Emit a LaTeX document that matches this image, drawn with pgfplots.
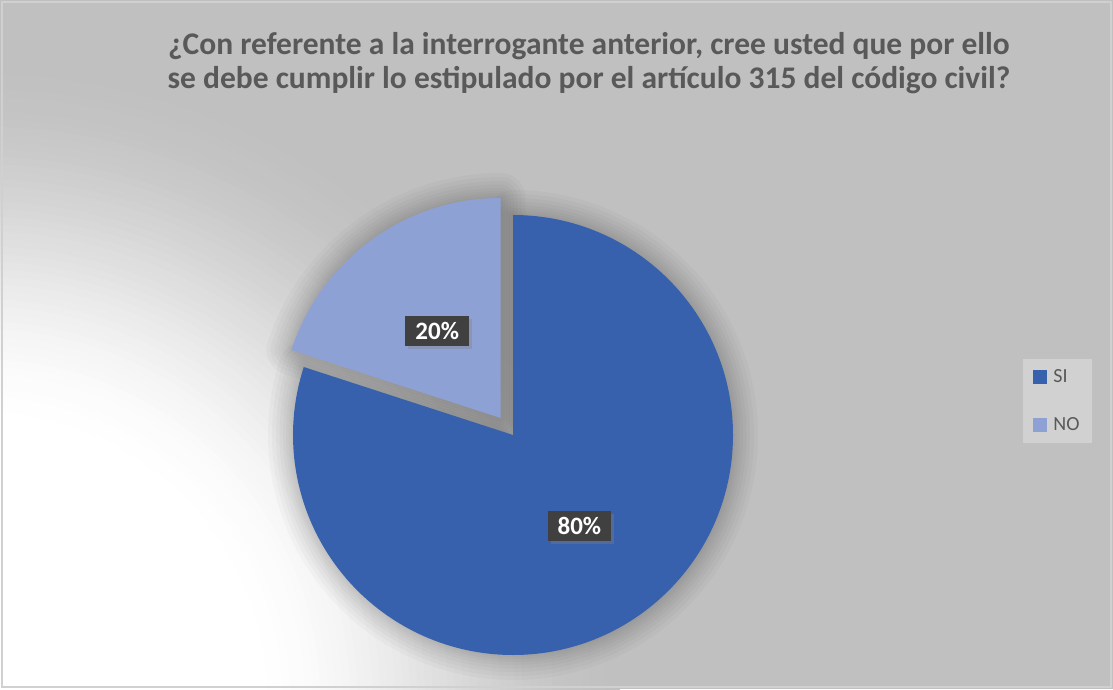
\documentclass[border=0pt]{standalone}
\usepackage{fontspec}
\setmainfont{Carlito}
\usepackage{pgfplots}
\usepackage{pgfplotstable}
\pgfplotsset{compat=1.18}
\usetikzlibrary{shadows}

\definecolor{bggray}{HTML}{C0C0C0}
\definecolor{siblue}{HTML}{3761AC}
\definecolor{noblue}{HTML}{8EA1D4}
\definecolor{titlegray}{HTML}{595959}
\definecolor{lblgray}{HTML}{404040}
\definecolor{framegray}{HTML}{D0D0D0}
\definecolor{leggray}{HTML}{D1D1D1}

\pgfplotstableread{
Label Value
SI 80
NO 20
}\piedata

\pgfplotstablegetelem{0}{Value}\of\piedata \let\vSI\pgfplotsretval
\pgfplotstablegetelem{1}{Value}\of\piedata \let\vNO\pgfplotsretval
\pgfmathsetmacro\aSIstart{90}
\pgfmathsetmacro\aSIend{90-3.6*\vSI}
\pgfmathsetmacro\aNOend{\aSIend-3.6*\vNO}
\pgfmathsetmacro\mSI{(\aSIstart+\aSIend)/2}
\pgfmathsetmacro\mNO{(\aSIend+\aNOend)/2}
\pgfmathtruncatemacro\lblSI{\vSI}
\pgfmathtruncatemacro\lblNO{\vNO}

\tikzset{
  glow/.style={
    preaction={draw=black, draw opacity=0.022, line width=50pt, line join=round},
    preaction={draw=black, draw opacity=0.022, line width=42pt, line join=round},
    preaction={draw=black, draw opacity=0.022, line width=34pt, line join=round},
    preaction={draw=black, draw opacity=0.022, line width=27pt, line join=round},
    preaction={draw=black, draw opacity=0.022, line width=20pt, line join=round},
    preaction={draw=black, draw opacity=0.022, line width=14pt, line join=round},
    preaction={draw=black, draw opacity=0.022, line width=9pt, line join=round},
    preaction={draw=black, draw opacity=0.022, line width=4pt, line join=round},
  },
  pielbl/.style={fill=lblgray, text=white, inner xsep=10pt, inner ysep=0pt,
    minimum height=30pt,
    font=\bfseries\fontsize{25}{25}\selectfont,
    drop shadow={opacity=0.35, shadow xshift=3pt, shadow yshift=-3pt}},
}

\begin{document}
\begin{tikzpicture}
% background (picture decoration)
\fill[bggray] (0pt,0pt) rectangle (1113pt,689pt);
\begin{scope}
\clip (0pt,0pt) rectangle (1113pt,689pt);
\foreach \k in {1,...,50} {
  \pgfmathsetmacro\rr{640-(\k-1)*7.5}
  \pgfmathsetmacro\ss{\k/50}
  \pgfmathsetmacro\ww{100*(3*\ss*\ss-2*\ss*\ss*\ss)}
  \fill[white!\ww!bggray] (-20pt,-10pt) circle (\rr pt);
}
\end{scope}
\draw[framegray, line width=1.5pt] (2pt,2pt) rectangle (1111pt,687pt);

\begin{axis}[
  at={(0pt,0pt)}, anchor=south west,
  scale only axis, width=1113pt, height=689pt,
  xmin=0, xmax=1113, ymin=0, ymax=689,
  hide axis, clip=false,
  legend style={at={(0.9191,0.357)}, anchor=south west, draw=none, fill=leggray,
    font=\fontsize{20}{24}\selectfont, text=titlegray, row sep=29pt,
    inner xsep=10pt, inner ysep=9pt},
  legend cell align=left,
  legend image code/.code={\fill[#1, draw=none] (0pt,-7pt) rectangle (14pt,7pt); \path (18pt,0pt);},
]
% title
\node[text=titlegray, align=center, font=\bfseries\fontsize{31.5}{34}\selectfont]
  at (axis cs:589,626) {¿Con referente a la interrogante anterior, cree usted que por ello\\se debe cumplir lo estipulado por el artículo 315 del código civil?};

% pie shadows
\path[glow] (axis cs:513,254) -- ++(\aSIstart:220pt)
  arc[start angle=\aSIstart, end angle=\aSIend, radius=220pt] -- cycle;
\path[glow] ([shift={(\mNO:21pt)}]axis cs:513,254) -- ++(\aSIend:220pt)
  arc[start angle=\aSIend, end angle=\aNOend, radius=220pt] -- cycle;
% pie slices
\fill[siblue] (axis cs:513,254) -- ++(\aSIstart:220pt)
  arc[start angle=\aSIstart, end angle=\aSIend, radius=220pt] -- cycle;
\fill[noblue] ([shift={(\mNO:21pt)}]axis cs:513,254) -- ++(\aSIend:220pt)
  arc[start angle=\aSIend, end angle=\aNOend, radius=220pt] -- cycle;

% data labels
\node[pielbl] at ([shift={(\mSI:113pt)}]axis cs:513,254) {\lblSI\%};
\node[pielbl] at ([shift={(\mNO:129pt)}]axis cs:513,254) {\lblNO\%};

\addlegendimage{fill=siblue}
\addlegendentry{SI}
\addlegendimage{fill=noblue}
\addlegendentry{NO}
\end{axis}
\end{tikzpicture}
\end{document}
